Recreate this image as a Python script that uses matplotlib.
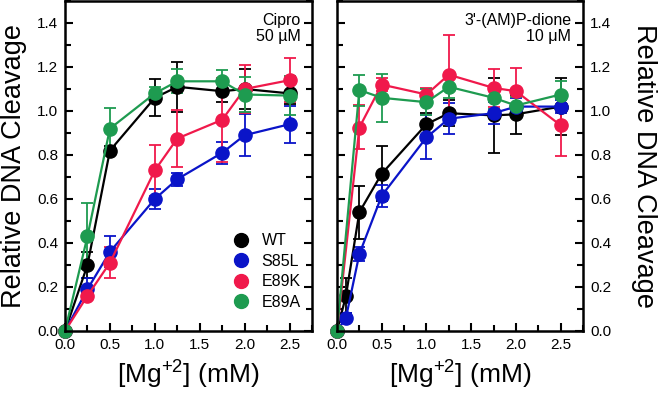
import numpy as np
import matplotlib.pyplot as plt
from matplotlib.ticker import MultipleLocator, FormatStrFormatter
from matplotlib.lines import Line2D

plt.rcParams['font.family'] = ['Liberation Sans', 'DejaVu Sans']
plt.rcParams['mathtext.fontset'] = 'custom'
plt.rcParams['mathtext.rm'] = 'Liberation Sans'
plt.rcParams['mathtext.default'] = 'regular'

names = ["WT", "S85L", "E89K", "E89A"]
colors = ["#000000", "#0a14c8", "#f0194b", "#1e9b50"]

# Cipro 50 uM
cipro_x = [0, 0.25, 0.5, 1.0, 1.25, 1.75, 2.0, 2.5]
cipro_wt = [0, 0.30, 0.82, 1.06, 1.11, 1.09, 1.10, 1.08]
cipro_wt_err = [0, 0.06, 0.02, 0.085, 0.115, 0.05, 0.09, 0.05]
cipro_s85l = [0, 0.19, 0.36, 0.60, 0.69, 0.81, 0.89, 0.94]
cipro_s85l_err = [0, 0.05, 0.07, 0.045, 0.03, 0.05, 0.095, 0.085]
cipro_e89k = [0, 0.16, 0.31, 0.73, 0.875, 0.96, 1.10, 1.14]
cipro_e89k_err = [0, 0.02, 0.07, 0.115, 0.13, 0.19, 0.11, 0.10]
cipro_e89a = [0, 0.43, 0.92, 1.08, 1.135, 1.135, 1.075, 1.07]
cipro_e89a_err = [0, 0.15, 0.095, 0.03, 0.055, 0.05, 0.08, 0.09]

# 3'-(AM)P-dione 10 uM
dione_x = [0, 0.1, 0.25, 0.5, 1.0, 1.25, 1.75, 2.0, 2.5]
dione_x2 = [0, 0.25, 0.5, 1.0, 1.25, 1.75, 2.0, 2.5]
dione_wt = [0, 0.16, 0.54, 0.715, 0.94, 0.99, 0.98, 0.985, 1.02]
dione_wt_err = [0, 0.08, 0.12, 0.125, 0.05, 0.06, 0.17, 0.09, 0.13]
dione_s85l = [0, 0.06, 0.35, 0.615, 0.88, 0.965, 0.99, 1.02, 1.02]
dione_s85l_err = [0, 0.02, 0.03, 0.05, 0.10, 0.07, 0.05, 0.04, 0.03]
dione_e89k = [0, 0.925, 1.12, 1.075, 1.165, 1.105, 1.09, 0.935]
dione_e89k_err = [0, 0.10, 0.03, 0.03, 0.18, 0.085, 0.105, 0.14]
dione_e89a = [0, 1.095, 1.06, 1.04, 1.11, 1.06, 1.025, 1.075]
dione_e89a_err = [0, 0.07, 0.11, 0.06, 0.05, 0.05, 0.04, 0.06]

fig = plt.figure(figsize=(6.58, 4.01), dpi=100)
ax1 = fig.add_axes([65/658, 70/401, 247/658, 330/401])
ax2 = fig.add_axes([337/658, 70/401, 246/658, 330/401])

def draw(ax, xs, ys, errs):
    for x, y, e, c in zip(xs, ys, errs, colors):
        ax.errorbar(x, y, yerr=e, color=c, lw=1.6, marker='o', ms=9.5,
                    mec=c, mfc=c, capsize=4, capthick=1.3, elinewidth=1.3,
                    clip_on=False)

draw(ax1, [cipro_x] * 4,
     [cipro_wt, cipro_s85l, cipro_e89k, cipro_e89a],
     [cipro_wt_err, cipro_s85l_err, cipro_e89k_err, cipro_e89a_err])
draw(ax2, [dione_x, dione_x, dione_x2, dione_x2],
     [dione_wt, dione_s85l, dione_e89k, dione_e89a],
     [dione_wt_err, dione_s85l_err, dione_e89k_err, dione_e89a_err])

for ax in (ax1, ax2):
    ax.set_xlim(0, 2.75)
    ax.set_ylim(0, 1.5)
    ax.xaxis.set_major_locator(MultipleLocator(0.5))
    ax.xaxis.set_minor_locator(MultipleLocator(0.25))
    ax.yaxis.set_major_locator(MultipleLocator(0.2))
    ax.yaxis.set_minor_locator(MultipleLocator(0.1))
    ax.xaxis.set_major_formatter(FormatStrFormatter('%.1f'))
    ax.yaxis.set_major_formatter(FormatStrFormatter('%.1f'))
    ax.tick_params(which='both', direction='in', labelsize=11, width=1.5,
                   left=True, right=True, top=False, pad=5)
    ax.tick_params(which='major', length=6)
    ax.tick_params(which='minor', length=4)
    for s in ax.spines.values():
        s.set_linewidth(1.8)
    ax.set_xlabel('[Mg$^{+2}$] (mM)', fontsize=19, labelpad=5)

ax1.set_ylabel('Relative DNA Cleavage', fontsize=19.5, labelpad=7)
ax2.yaxis.tick_right()
ax2.tick_params(which='both', left=True, right=True)
ax2.yaxis.set_label_position('right')
ax2.set_ylabel('Relative DNA Cleavage', fontsize=19.5, rotation=270, labelpad=33)

ax1.text(0.955, 0.965, 'Cipro\n50 µM', transform=ax1.transAxes, ha='right',
         va='top', fontsize=11.5, linespacing=1.15)
ax2.text(0.952, 0.965, "3'-(AM)P-dione\n10 μM", transform=ax2.transAxes,
         ha='right', va='top', fontsize=11.5, linespacing=1.15)

handles = [Line2D([], [], ls='none', marker='o', ms=10, color=c) for c in colors]
ax1.legend(handles, names, loc='lower right', bbox_to_anchor=(1.0, 0.03),
           frameon=False, fontsize=11.5, handletextpad=0.7, labelspacing=0.35,
           handlelength=1.2, borderaxespad=0.3)

fig.savefig('out.png', dpi=100)
